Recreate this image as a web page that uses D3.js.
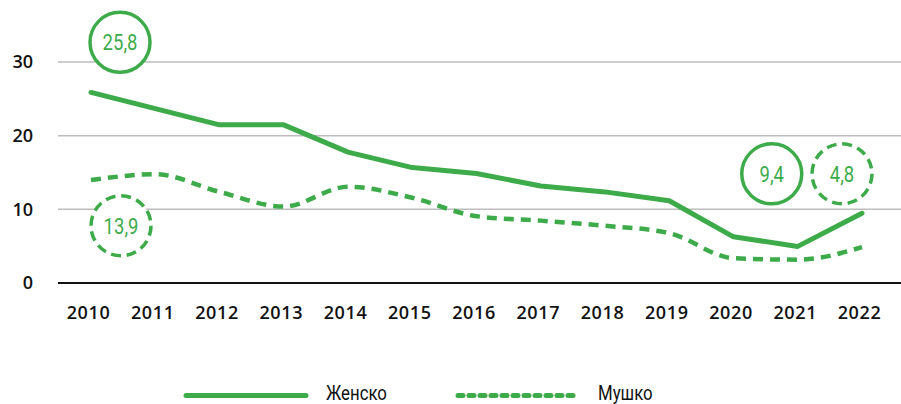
<!DOCTYPE html>
<head>
  <meta charset="utf-8">
  <script src="https://d3js.org/d3.v7.min.js"></script>
  <style>
    body { margin: 0; background: #fff; }

    .axis text {
      font-family: 'Open Sans';
      font-size: 18px;
      font-weight: 600;
      fill: #111;
    }

    .x text { letter-spacing: 0.6px; }

    .axis .domain { display: none; }

    .y line { stroke: #bdbdbd; stroke-width: 1.5; }

    .label {
      font-family: 'Roboto';
      font-size: 22px;
      font-weight: 400;
    }
  </style>
</head>
<body>
  <script>
    var years = ["2010", "2011", "2012", "2013", "2014", "2015", "2016",
                 "2017", "2018", "2019", "2020", "2021", "2022"];
    var zensko = [25.8, 23.6, 21.4, 21.4, 17.7, 15.6, 14.8, 13.1, 12.3, 11.1, 6.2, 4.9, 9.4];
    var musko  = [13.9, 14.7, 12.3, 10.3, 13.0, 11.5, 9.0, 8.4, 7.7, 6.7, 3.3, 3.1, 4.8];
    var yTicks = [0, 10, 20, 30];
    var seriesNames = ["Женско", "Мушко"];
    var callouts = ["25,8", "13,9", "9,4", "4,8"];

    var green = "#3dab4a";
    var width = 901, height = 404;

    var svg = d3.select("body").append("svg")
        .attr("width", width)
        .attr("height", height);

    var x = d3.scalePoint()
        .domain(years)
        .range([91, 862]);

    var y = d3.scaleLinear()
        .domain([0, 30])
        .range([282.5, 61.5]);

    // gridlines + y labels
    svg.append("g")
        .attr("class", "y axis")
        .attr("transform", "translate(58,0)")
        .call(d3.axisLeft(y).tickValues(yTicks).tickSize(-(width - 58)).tickPadding(25))
        .selectAll(".tick line")
        .style("stroke", function(d) { return d === 0 ? "#111" : null; })
        .style("stroke-width", function(d) { return d === 0 ? 2 : null; });

    svg.select(".y").selectAll(".tick text").attr("dy", "0.36em");

    svg.append("g")
        .attr("class", "x axis")
        .attr("transform", "translate(-3," + y(0) + ")")
        .call(d3.axisBottom(x).tickSize(0).tickPadding(24));

    var line = d3.line()
        .x(function(d, i) { return x(years[i]); })
        .y(function(d) { return y(d); });

    svg.append("path")
        .datum(musko)
        .attr("fill", "none")
        .attr("stroke", green)
        .attr("stroke-width", 4.5)
        .attr("stroke-dasharray", "10,7")
        .attr("d", line.curve(d3.curveMonotoneX));

    svg.append("path")
        .datum(zensko)
        .attr("fill", "none")
        .attr("stroke", green)
        .attr("stroke-width", 5)
        .attr("stroke-linejoin", "round")
        .attr("stroke-linecap", "round")
        .attr("d", line.curve(d3.curveLinear));

    // callout circles
    var spots = [
      { cx: x("2010") + 29, cy: y(32.6), dashed: false },
      { cx: x("2010") + 30, cy: y(7.7), dashed: true },
      { cx: x("2021") - 26, cy: y(14.75), dashed: false },
      { cx: x("2022") - 20, cy: y(14.75), dashed: true }
    ];

    var c = svg.selectAll(".callout")
        .data(callouts)
      .enter().append("g")
        .attr("class", "callout")
        .attr("transform", function(d, i) { return "translate(" + spots[i].cx + "," + spots[i].cy + ")"; });

    c.append("circle")
        .attr("r", 30)
        .attr("fill", "#fff")
        .attr("stroke", green)
        .attr("stroke-width", 3.5)
        .attr("stroke-dasharray", function(d, i) { return spots[i].dashed ? "10,5.7" : null; });

    c.append("text")
        .attr("class", "label")
        .attr("text-anchor", "middle")
        .attr("dy", "0.36em")
        .attr("fill", green)
        .text(function(d) { return d; });

    // legend
    var legend = svg.selectAll(".legend")
        .data(seriesNames)
      .enter().append("g")
        .attr("class", "legend")
        .attr("transform", function(d, i) { return "translate(" + (186 + i * 272) + ",395.5)"; });

    legend.append("line")
        .attr("x1", 0)
        .attr("x2", 120)
        .attr("stroke", green)
        .attr("stroke-width", 5)
        .attr("stroke-linecap", "round")
        .attr("stroke-dasharray", function(d, i) { return i ? "5,6" : null; });

    legend.append("text")
        .attr("class", "label")
        .attr("x", 140)
        .attr("y", 4)
        .style("font-size", "20px")
        .attr("fill", "#111")
        .text(function(d) { return d; });

    // squeeze labels to a condensed look
    svg.selectAll(".label").each(function() {
      var w = this.getComputedTextLength();
      d3.select(this)
          .attr("textLength", w * 0.84)
          .attr("lengthAdjust", "spacingAndGlyphs");
    });
  </script>
</body>
